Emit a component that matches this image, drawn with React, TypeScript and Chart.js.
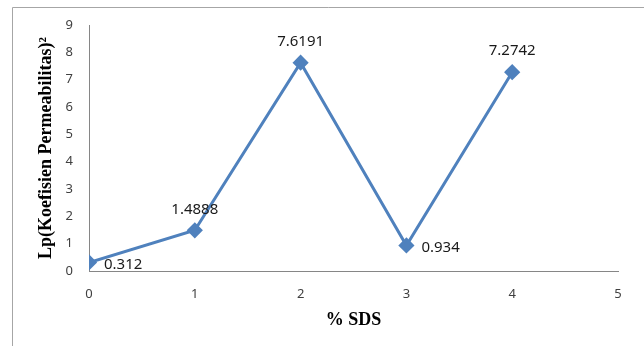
import React, { useEffect, useRef } from "react";
import { Chart, registerables } from "chart.js";

Chart.register(...registerables);

// % SDS concentration and the measured Lp values
const sdsPercent = [0, 1, 2, 3, 4];
const lpValues = [0.312, 1.4888, 7.6191, 0.934, 7.2742];
const valueLabels = ["0.312", "1.4888", "7.6191", "0.934", "7.2742"];
const labelSide = ["right", "above", "above", "right", "above"];

const xTitle = "% SDS";
const yTitle = "Lp(Koefisien Permeabilitas)\u00B2";

const lineBlue = "#4F81BD";
const axisGray = "#868686";
const tickFont = { family: "'Noto Sans', 'Open Sans', sans-serif", size: 13 };

// outer frame lines (left and top edges)
const framePlugin = {
  id: "frame",
  beforeDraw(chart: any) {
    const { ctx, width, height } = chart;
    ctx.save();
    ctx.fillStyle = "#ffffff";
    ctx.fillRect(0, 0, width, height);
    ctx.strokeStyle = "#a6a6a6";
    ctx.lineWidth = 1;
    ctx.beginPath();
    ctx.moveTo(12.5, height);
    ctx.lineTo(12.5, 7.5);
    ctx.lineTo(width, 7.5);
    ctx.stroke();
    ctx.restore();
  },
};

// value labels beside each point
const valueLabelPlugin = {
  id: "valueLabels",
  afterDatasetsDraw(chart: any) {
    const { ctx } = chart;
    const meta = chart.getDatasetMeta(0);
    ctx.save();
    ctx.font = "15px 'Noto Sans', 'Open Sans', sans-serif";
    ctx.fillStyle = "#1a1a1a";
    meta.data.forEach((pt: any, i: number) => {
      const text = valueLabels[i];
      if (labelSide[i] === "right") {
        ctx.textAlign = "left";
        ctx.textBaseline = "middle";
        ctx.fillText(text, pt.x + 15, pt.y + 2);
      } else {
        ctx.textAlign = "center";
        ctx.textBaseline = "middle";
        ctx.fillText(text, pt.x, pt.y - 21);
      }
    });
    ctx.restore();
  },
};

export default function App() {
  const canvasRef = useRef<HTMLCanvasElement | null>(null);

  useEffect(() => {
    if (!canvasRef.current) return;
    const chart = new Chart(canvasRef.current, {
      type: "line",
      data: {
        datasets: [
          {
            data: sdsPercent.map((x, i) => ({ x, y: lpValues[i] })),
            borderColor: lineBlue,
            backgroundColor: lineBlue,
            borderWidth: 3,
            pointStyle: "rectRot",
            pointRadius: 6,
            pointBackgroundColor: lineBlue,
            pointBorderColor: lineBlue,
            tension: 0,
          },
        ],
      },
      options: {
        responsive: false,
        animation: false,
        events: [],
        layout: { padding: { top: 25, right: 26, left: 0, bottom: 0 } },
        plugins: { legend: { display: false }, tooltip: { enabled: false } },
        scales: {
          x: {
            type: "linear",
            min: 0,
            max: 5,
            afterFit(scale: any) {
              scale.height = 75;
            },
            grid: { display: false, drawTicks: false },
            border: { display: true, color: axisGray, width: 1 },
            ticks: { stepSize: 1, padding: 15, color: "#404040", font: tickFont },
            title: {
              display: true,
              text: xTitle,
              color: "#000000",
              font: { family: "'Liberation Serif', 'DejaVu Serif', serif", size: 18, weight: "bold" },
              padding: { top: 0, bottom: 15 },
            },
          },
          y: {
            min: 0,
            max: 9,
            afterFit(scale: any) {
              scale.width = 89;
            },
            grid: { display: false, drawTicks: false },
            border: { display: true, color: axisGray, width: 1 },
            ticks: { stepSize: 1, padding: 16, color: "#404040", font: tickFont },
            title: {
              display: true,
              text: yTitle,
              color: "#000000",
              font: { family: "'Liberation Serif', 'DejaVu Serif', serif", size: 18, weight: "bold" },
              padding: { top: 36, bottom: 0 },
            },
          },
        },
      },
      plugins: [framePlugin, valueLabelPlugin],
    });
    return () => chart.destroy();
  }, []);

  return (
    <div style={{ position: "fixed", left: 0, top: 0, width: 644, height: 346, background: "#fff" }}>
      <canvas ref={canvasRef} width={644} height={346} />
    </div>
  );
}
